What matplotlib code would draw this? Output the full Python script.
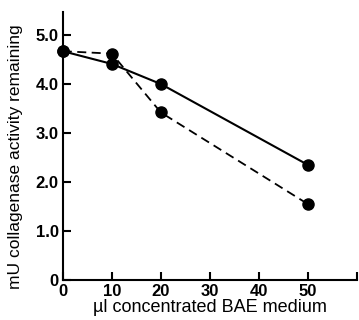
import matplotlib
matplotlib.use("Agg")
import matplotlib.pyplot as plt

x_vals = [0, 10, 20, 50]
solid_vals = [4.67, 4.41, 4.0, 2.35]
dashed_vals = [4.67, 4.62, 3.42, 1.55]
x_ticks = [0, 10, 20, 30, 40, 50, 60]
x_tick_labels = ["0", "10", "20", "30", "40", "50", ""]
y_ticks = [0, 1, 2, 3, 4, 5]
y_tick_labels = ["0", "1.0", "2.0", "3.0", "4.0", "5.0"]

plt.rcParams['font.family'] = ['Liberation Sans', 'DejaVu Sans']

fig = plt.figure(figsize=(3.59, 3.2), dpi=100)
ax = fig.add_axes([0.175, 0.125, 0.819, 0.8375])

ax.plot(x_vals, solid_vals, '-', color='black', lw=1.5, marker='o', ms=8,
        clip_on=False, zorder=3)
ax.plot(x_vals, dashed_vals, '--', color='black', lw=1.3, marker='o', ms=8,
        dashes=(5, 3), clip_on=False, zorder=3)

ax.set_xlim(0, 60)
ax.set_ylim(0, 5.47)
ax.spines['top'].set_visible(False)
ax.spines['right'].set_visible(False)
for s in ('left', 'bottom'):
    ax.spines[s].set_linewidth(1.5)

ax.set_xticks(x_ticks)
ax.set_xticklabels(x_tick_labels)
ax.set_yticks(y_ticks)
ax.set_yticklabels(y_tick_labels)
ax.tick_params(axis='both', direction='in', length=6, width=1.5,
               labelsize=12, pad=3)
for lab in ax.get_xticklabels() + ax.get_yticklabels():
    lab.set_fontweight('semibold')

ax.set_xlabel("\u00b5l concentrated BAE medium", fontsize=13, labelpad=0)
ax.set_ylabel("mU collagenase activity remaining", fontsize=12.5)
ax.yaxis.set_label_coords(-0.135, 0.46)

fig.savefig("out.png", dpi=100)
